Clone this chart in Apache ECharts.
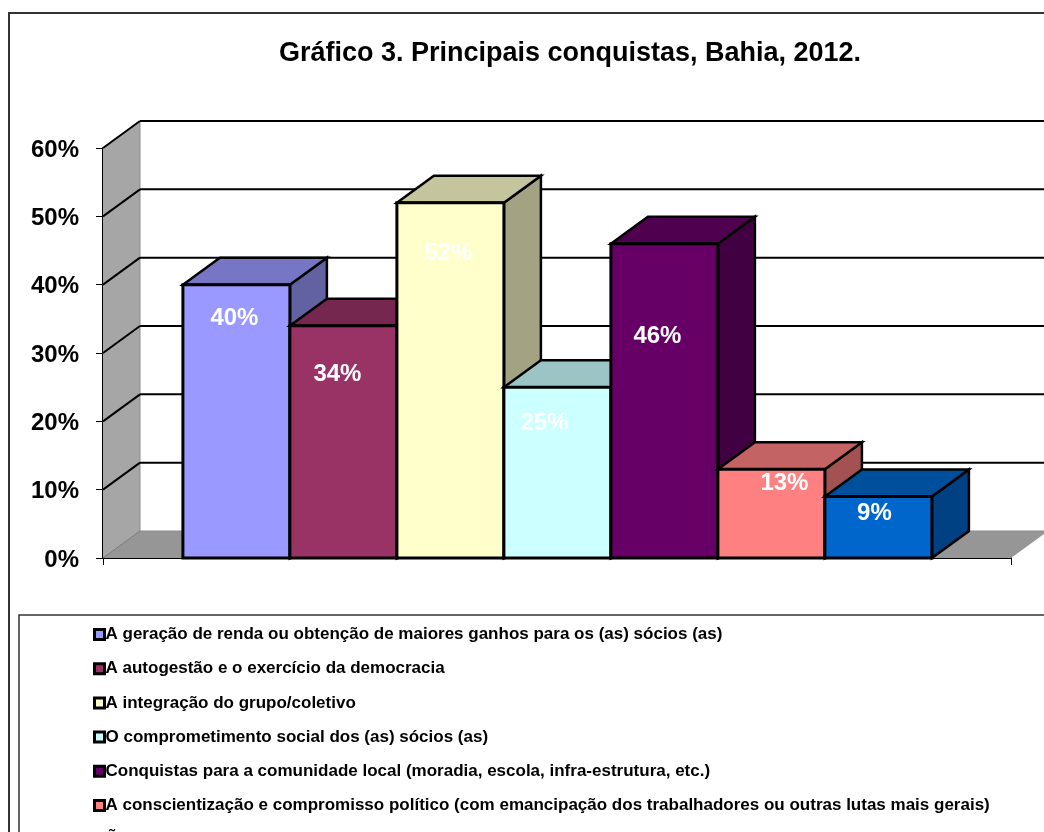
<!DOCTYPE html>
<html>
<head>
<meta charset="utf-8">
<title>Gráfico 3</title>
<style>
    html, body { margin: 0; padding: 0; background: #fff; overflow: hidden; }
    #wrap { width: 1044px; height: 832px; overflow: hidden; }
    #chart { width: 1044px; height: 920px; }
</style>
<script src="https://cdn.jsdelivr.net/npm/echarts@6/dist/echarts.min.js"></script>
</head>
<body>
<div id="wrap"><div id="chart"></div></div>
<script>
var titleText = 'Gráfico 3. Principais conquistas, Bahia, 2012.';
var categoryName = ['Bahia'];
var conquistas = [
    'A geração de renda ou obtenção de maiores ganhos para os (as) sócios (as)',
    'A autogestão e o exercício da democracia',
    'A integração do grupo/coletivo',
    'O comprometimento social dos (as) sócios (as)',
    'Conquistas para a comunidade local (moradia, escola, infra-estrutura, etc.)',
    'A conscientização e compromisso político (com emancipação dos trabalhadores ou outras lutas mais gerais)',
    'Õ'
];
var percentuais = [40, 34, 52, 25, 46, 13, 9];
var yTicks = [0, 10, 20, 30, 40, 50, 60];
var cores = ['#9999FF', '#993366', '#FFFFCC', '#CCFFFF', '#660066', '#FF8080', '#0066CC'];

// labels were moved by hand in the original, so they sit at no fixed spot in the bars
var labelShift = [[-2, 34], [-6, 49], [-2, 51], [-13, 36], [-7, 93], [13, 14], [-4, 17]];

var DEPTH_X = 37;
var DEPTH_Y = -27;
var BAR_SHARE = 749 / 908;
var FONT = '"Liberation Sans", Arial, sans-serif';

function shade(hex, f) {
    var n = parseInt(hex.slice(1), 16);
    var r = Math.round((n >> 16 & 255) * f);
    var g = Math.round((n >> 8 & 255) * f);
    var b = Math.round((n & 255) * f);
    return 'rgb(' + r + ',' + g + ',' + b + ')';
}

function poly(points, fill, stroke, width) {
    return {
        type: 'polygon',
        shape: { points: points },
        style: { fill: fill, stroke: stroke || null, lineWidth: width || 0, lineJoin: 'miter' }
    };
}

function line(x1, y1, x2, y2, stroke, width) {
    return {
        type: 'line',
        shape: { x1: x1, y1: y1, x2: x2, y2: y2 },
        style: { stroke: stroke, lineWidth: width }
    };
}

function renderWall(params, api) {
    var value = api.value(0);
    var p = api.coord([0, value]);
    var size = api.size([1, 0])[0];
    var left = p[0] - size / 2;
    var right = p[0] + size / 2;
    var y = p[1];
    var children = [];
    if (value === yTicks[0]) {
        var top = api.coord([0, yTicks[yTicks.length - 1]])[1];
        children.push(poly([[left, y], [left + DEPTH_X, y + DEPTH_Y], [left + DEPTH_X, top + DEPTH_Y], [left, top]], '#A6A6A6'));
        children.push(poly([[left, y], [right, y], [right + DEPTH_X, y + DEPTH_Y], [left + DEPTH_X, y + DEPTH_Y]], '#969696'));
        children.push(line(left + DEPTH_X, y + DEPTH_Y, left + DEPTH_X, top + DEPTH_Y, '#8C8C8C', 1));
        children.push(line(left + DEPTH_X, y + DEPTH_Y, right + DEPTH_X, y + DEPTH_Y, '#8C8C8C', 1));
        children.push(line(left, y, left + DEPTH_X, y + DEPTH_Y, '#777', 1));
    } else {
        children.push(line(left + DEPTH_X, y + DEPTH_Y, right + DEPTH_X, y + DEPTH_Y, '#000', 2));
        children.push(line(left, y, left + DEPTH_X, y + DEPTH_Y, '#000', 2));
    }
    return { type: 'group', children: children };
}

function renderBar(index) {
    return function (params, api) {
        var p = api.coord([0, api.value(1)]);
        var base = api.coord([0, 0]);
        var size = api.size([1, 0])[0];
        var step = size * BAR_SHARE / percentuais.length;
        var x0 = p[0] - size * BAR_SHARE / 2 + index * step + 0.4;
        var x1 = x0 + step;
        var y0 = p[1];
        var y1 = base[1];
        var color = cores[index];
        var shift = labelShift[index];
        return {
            type: 'group',
            children: [
                poly([[x1, y1], [x1 + DEPTH_X, y1 + DEPTH_Y], [x1 + DEPTH_X, y0 + DEPTH_Y], [x1, y0]], shade(color, 0.64), '#000', 2.5),
                poly([[x0, y0], [x0 + DEPTH_X, y0 + DEPTH_Y], [x1 + DEPTH_X, y0 + DEPTH_Y], [x1, y0]], shade(color, 0.77), '#000', 2.5),
                poly([[x0, y0], [x1, y0], [x1, y1], [x0, y1]], color, '#000', 3),
                {
                    type: 'text',
                    style: {
                        text: api.value(1) + '%',
                        x: (x0 + x1) / 2 + shift[0],
                        y: y0 + shift[1],
                        fill: '#fff',
                        font: 'bold 24px ' + FONT,
                        textAlign: 'center',
                        textVerticalAlign: 'middle'
                    }
                }
            ]
        };
    };
}

var series = [{
    name: 'paredes',
    type: 'custom',
    silent: true,
    z: 1,
    data: yTicks.map(function (t) { return [t]; }),
    encode: { y: 0 },
    renderItem: renderWall
}];

conquistas.forEach(function (name, i) {
    series.push({
        name: name,
        type: 'custom',
        z: 3 + i,
        itemStyle: { color: cores[i] },
        data: [[0, percentuais[i]]],
        encode: { x: 0, y: 1 },
        renderItem: renderBar(i)
    });
});

var chart = echarts.init(document.getElementById('chart'));
chart.setOption({
    animation: false,
    backgroundColor: '#fff',
    title: {
        text: titleText,
        left: 565,
        top: 35,
        textAlign: 'center',
        textStyle: { fontFamily: FONT, fontWeight: 'bold', fontSize: 27, color: '#000' }
    },
    grid: { left: 103, top: 148, width: 908, height: 410 },
    xAxis: {
        type: 'category',
        data: categoryName,
        axisLine: { lineStyle: { color: '#000', width: 2 } },
        axisTick: { show: true, length: 7, lineStyle: { color: '#000', width: 1 } },
        axisLabel: { show: false }
    },
    yAxis: {
        type: 'value',
        min: 0,
        max: 60,
        interval: 10,
        axisLine: { show: true, lineStyle: { color: '#000', width: 2 } },
        axisTick: { show: true, length: 7, lineStyle: { color: '#000', width: 1 } },
        splitLine: { show: false },
        axisLabel: {
            formatter: '{a|{value}%}',
            margin: 24,
            rich: {
                a: {
                    padding: [4, 0, 0, 0],
                    color: '#000',
                    fontFamily: FONT,
                    fontWeight: 'bold',
                    fontSize: 24
                }
            }
        }
    },
    legend: {
        orient: 'vertical',
        left: 88,
        top: 621,
        itemWidth: 10,
        itemHeight: 10,
        itemGap: 17.2,
        selectedMode: false,
        icon: 'rect',
        itemStyle: { borderColor: '#000', borderWidth: 3 },
        data: conquistas,
        textStyle: {
            color: '#000',
            fontFamily: FONT,
            fontWeight: 'bold',
            fontSize: 17,
            padding: [0, 0, 0, -4],
            lineHeight: 14
        }
    },
    graphic: [
        {
            type: 'rect',
            silent: true,
            z: -1,
            shape: { x: 9, y: 13, width: 1100, height: 900 },
            style: { fill: 'none', stroke: '#333', lineWidth: 2 }
        },
        {
            type: 'rect',
            silent: true,
            z: -1,
            shape: { x: 19, y: 615, width: 1100, height: 300 },
            style: { fill: 'none', stroke: '#333', lineWidth: 1.5 }
        }
    ],
    series: series
});
</script>
</body>
</html>
